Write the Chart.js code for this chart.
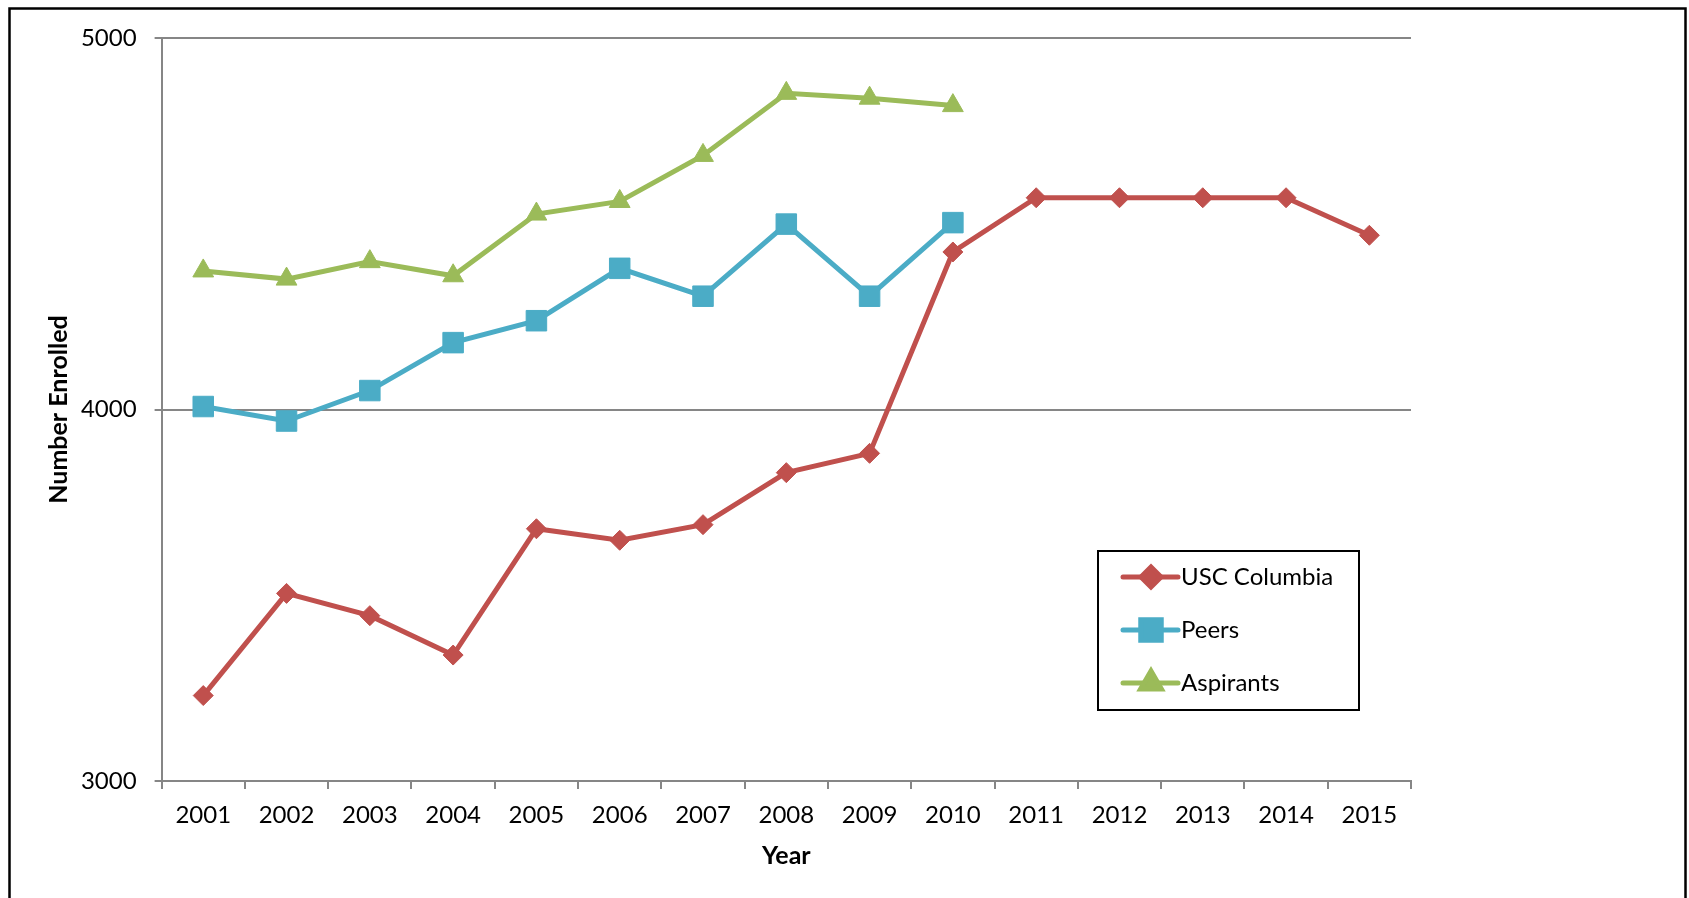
<!DOCTYPE html>
<html lang="en">
<head>
<meta charset="UTF-8">
<title>Number Enrolled</title>
<style>
  html, body { margin: 0; padding: 0; background: #fff; }
  #quadro { width: 1689px; height: 898px; position: relative; }
</style>
</head>
<body>
<div id="quadro"><canvas id="grafico"></canvas></div>
<script src="https://cdn.jsdelivr.net/npm/chart.js"></script>
<script>
// dados
const anos = ['2001', '2002', '2003', '2004', '2005', '2006', '2007', '2008',
  '2009', '2010', '2011', '2012', '2013', '2014', '2015'];
const uscColumbia = [3230, 3505, 3445, 3339, 3679, 3648, 3690, 3830, 3882, 4424, 4570, 4570, 4570, 4570, 4469];
const peers = [4008, 3969, 4051, 4180, 4239, 4380, 4305, 4499, 4305, 4503];
const aspirants = [4373, 4351, 4398, 4360, 4526, 4560, 4684, 4851, 4838, 4818];
const yTicks = [3000, 4000, 5000];

const fonte = 'Lato, "Open Sans", sans-serif';
const cinza = '#868686';

// caixa externa preta
const moldura = {
  id: 'moldura',
  afterDraw(chart) {
    const ctx = chart.ctx;
    ctx.save();
    ctx.strokeStyle = '#000';
    ctx.lineWidth = 2.5;
    ctx.strokeRect(9.5, 8.5, chart.width - 13, chart.height + 20);
    ctx.restore();
  }
};

// legenda com linha + marcador dentro da area do grafico
const legendaBox = {
  id: 'legendaBox',
  afterDraw(chart) {
    const { ctx, chartArea: a } = chart;
    const x0 = a.right - 313, y0 = a.bottom - 230;
    ctx.save();
    ctx.fillStyle = '#fff';
    ctx.fillRect(x0, y0, 261, 159);
    ctx.strokeStyle = '#000';
    ctx.lineWidth = 2;
    ctx.strokeRect(x0, y0, 261, 159);

    chart.data.datasets.forEach((ds, i) => {
      const cy = y0 + 26 + i * 53;
      ctx.strokeStyle = ds.borderColor;
      ctx.lineWidth = ds.borderWidth;
      ctx.lineCap = 'round';
      ctx.beginPath();
      ctx.moveTo(x0 + 25, cy);
      ctx.lineTo(x0 + 80, cy);
      ctx.stroke();
      ctx.fillStyle = ds.pointBackgroundColor;
      ctx.strokeStyle = ds.pointBorderColor;
      Chart.helpers.drawPoint(ctx, {
        pointStyle: ds.pointStyle, radius: ds.pointRadius, borderWidth: 1, rotation: 0
      }, x0 + 53, cy);
      ctx.fillStyle = '#000';
      ctx.font = '24px ' + fonte;
      ctx.textAlign = 'left';
      ctx.textBaseline = 'middle';
      ctx.fillText(ds.label, x0 + 83, cy);
    });
    ctx.restore();
  }
};

const ctx = document.getElementById('grafico').getContext('2d');
new Chart(ctx, {
  type: 'line',
  data: {
    labels: anos,
    datasets: [{
      label: 'USC Columbia',
      data: uscColumbia,
      borderColor: '#C0504D',
      pointBackgroundColor: '#C0504D',
      pointBorderColor: '#C0504D',
      borderWidth: 5,
      pointStyle: 'rectRot',
      pointRadius: 10,
      pointBorderWidth: 1,
      tension: 0
    }, {
      label: 'Peers',
      data: peers,
      borderColor: '#4BACC6',
      pointBackgroundColor: '#4BACC6',
      pointBorderColor: '#4BACC6',
      borderWidth: 5,
      pointStyle: 'rect',
      pointRadius: 14.5,
      pointBorderWidth: 1,
      tension: 0
    }, {
      label: 'Aspirants',
      data: aspirants,
      borderColor: '#9BBB59',
      pointBackgroundColor: '#9BBB59',
      pointBorderColor: '#9BBB59',
      borderWidth: 5,
      pointStyle: 'triangle',
      pointRadius: 12,
      pointBorderWidth: 1,
      tension: 0
    }]
  },
  options: {
    responsive: true,
    maintainAspectRatio: false,
    animation: false,
    events: [],
    layout: { padding: { top: 38, right: 278, bottom: 0, left: 0 } },
    plugins: {
      legend: { display: false },
      tooltip: { enabled: false }
    },
    scales: {
      x: {
        offset: true,
        grid: {
          offset: true,
          drawOnChartArea: false,
          drawTicks: true,
          tickLength: 8,
          color: cinza,
          lineWidth: 2
        },
        border: { color: cinza, width: 2 },
        ticks: {
          color: '#000',
          padding: 11.5,
          maxRotation: 0,
          autoSkip: false,
          font: { family: fonte, size: 24 }
        },
        title: {
          display: true,
          text: 'Year',
          color: '#000',
          font: { family: fonte, size: 25, weight: 'bold' },
          padding: { top: 0, bottom: 27 }
        },
        afterFit(s) { s.height = 117; }
      },
      y: {
        min: 3000,
        max: 5000,
        afterBuildTicks(s) { s.ticks = yTicks.map(v => ({ value: v })); },
        grid: {
          color: cinza,
          lineWidth: 2,
          drawTicks: true,
          tickLength: 7
        },
        border: { color: cinza, width: 2 },
        ticks: {
          color: '#000',
          padding: 18,
          font: { family: fonte, size: 24 },
          callback: v => String(v)
        },
        title: {
          display: true,
          text: 'Number Enrolled',
          color: '#000',
          font: { family: fonte, size: 25, weight: 'bold' },
          padding: { top: 44, bottom: 0 }
        },
        afterFit(s) { s.width = 161.6; }
      }
    }
  },
  plugins: [moldura, legendaBox]
});
</script>
</body>
</html>
